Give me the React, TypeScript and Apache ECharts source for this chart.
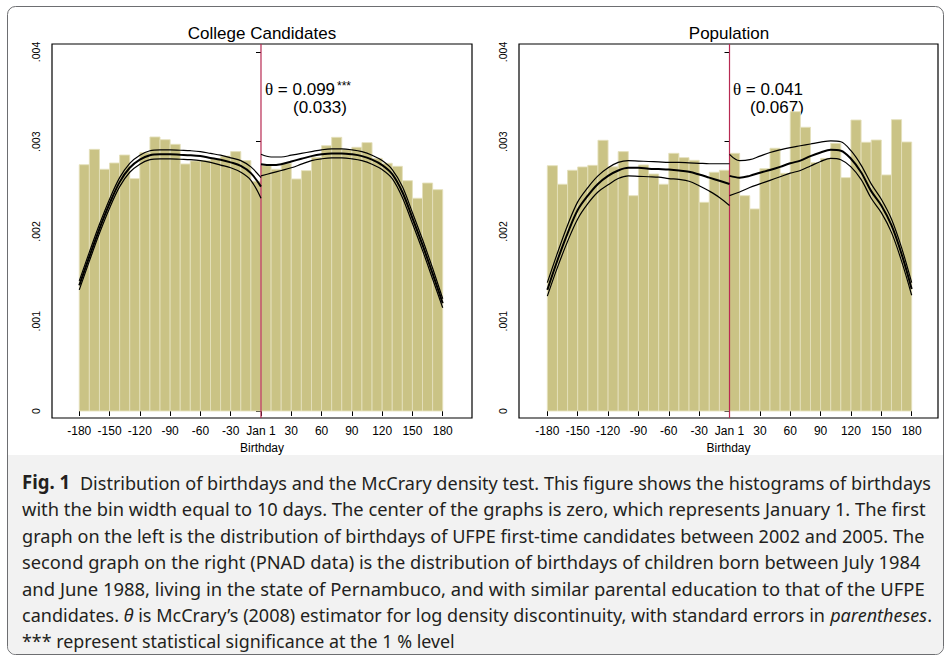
import React, { useEffect, useRef } from 'react';
import * as echarts from 'echarts';

// ---------- data ----------
const BIN_WIDTH = 10;
const BIN_STARTS = [-180, -170, -160, -150, -140, -130, -120, -110, -100, -90, -80, -70, -60, -50, -40, -30, -20, -10,
  0, 10, 20, 30, 40, 50, 60, 70, 80, 90, 100, 110, 120, 130, 140, 150, 160, 170];

const COLLEGE_BARS = [0.002744, 0.002915, 0.002693, 0.002763, 0.002852, 0.002589, 0.002878, 0.003053, 0.003023,
  0.002971, 0.002752, 0.002786, 0.00279, 0.00281, 0.00284, 0.00289, 0.00279, 0.00256,
  0.002733, 0.002693, 0.00276, 0.002585, 0.002678, 0.002826, 0.002956, 0.003049, 0.002915,
  0.002938, 0.00299, 0.002815, 0.00276, 0.002726, 0.002566, 0.00237, 0.00254, 0.002466];

const POPULATION_BARS = [0.002733, 0.002526, 0.002682, 0.002719, 0.002737, 0.003016, 0.00272, 0.00289, 0.002399,
  0.002741, 0.00264, 0.002526, 0.002871, 0.002823, 0.002793, 0.002325, 0.00266, 0.002682,
  0.002871, 0.002399, 0.002251, 0.0027, 0.002927, 0.002648, 0.003335, 0.003161, 0.002767,
  0.002815, 0.002982, 0.0026, 0.003242, 0.002994, 0.003019, 0.00263, 0.003246, 0.002997];

const LEFT_DAYS = [-180, -170, -160, -150, -140, -130, -120, -110, -100, -90, -80, -70, -60, -50, -40, -30, -20, -10, 0];
const RIGHT_DAYS = [0, 10, 20, 30, 40, 50, 60, 70, 80, 90, 100, 110, 120, 130, 140, 150, 160, 170, 180];

const COLLEGE_LEFT_FIT = [0.0014, 0.00172, 0.00203, 0.00231, 0.00255, 0.00271, 0.0028, 0.00285, 0.00286, 0.00286,
  0.002855, 0.00285, 0.00284, 0.00282, 0.0028, 0.00277, 0.00273, 0.00265, 0.0025];
const COLLEGE_LEFT_UPPER = [0.00145, 0.00177, 0.00208, 0.00236, 0.0026, 0.00276, 0.00285, 0.0029, 0.00291, 0.00291,
  0.002905, 0.0029, 0.00289, 0.00287, 0.00285, 0.00282, 0.00279, 0.00272, 0.0026];
const COLLEGE_LEFT_LOWER = [0.00135, 0.00167, 0.00198, 0.00226, 0.0025, 0.00266, 0.00275, 0.0028, 0.00281, 0.00281,
  0.002805, 0.0028, 0.00279, 0.00277, 0.00274, 0.00271, 0.00266, 0.00257, 0.00237];
const COLLEGE_RIGHT_FIT = [0.00275, 0.00274, 0.00275, 0.00278, 0.00281, 0.00284, 0.00286, 0.00287, 0.00287, 0.00286,
  0.00284, 0.0028, 0.00274, 0.00264, 0.00244, 0.00215, 0.00185, 0.00153, 0.0012];
const COLLEGE_RIGHT_UPPER = [0.00286, 0.00283, 0.00283, 0.00285, 0.00287, 0.00289, 0.00291, 0.00292, 0.00292, 0.00291,
  0.00289, 0.00285, 0.00279, 0.00269, 0.0025, 0.00221, 0.00191, 0.00159, 0.00125];
const COLLEGE_RIGHT_LOWER = [0.00262, 0.00265, 0.00268, 0.00271, 0.00275, 0.00279, 0.00281, 0.00282, 0.00282, 0.00281,
  0.00279, 0.00275, 0.00269, 0.00259, 0.00238, 0.00209, 0.00179, 0.00147, 0.00115];

const POP_LEFT_FIT = [0.00135, 0.00168, 0.00198, 0.00224, 0.0024, 0.00253, 0.00262, 0.00268, 0.00271, 0.00271,
  0.0027, 0.002695, 0.00269, 0.00268, 0.002665, 0.002635, 0.0026, 0.002565, 0.00253];
const POP_LEFT_UPPER = [0.00143, 0.00176, 0.00207, 0.00233, 0.00249, 0.00262, 0.00271, 0.00277, 0.00279, 0.002785,
  0.00278, 0.002775, 0.00277, 0.00277, 0.002765, 0.00276, 0.002755, 0.002755, 0.002755];
const POP_LEFT_LOWER = [0.00128, 0.0016, 0.00189, 0.00214, 0.00231, 0.00244, 0.00252, 0.00259, 0.00262, 0.002615,
  0.00261, 0.002605, 0.00259, 0.00258, 0.00256, 0.00251, 0.00245, 0.00238, 0.00229];
const POP_RIGHT_FIT = [0.00262, 0.0026, 0.00262, 0.002655, 0.002685, 0.00272, 0.00276, 0.00279, 0.00284, 0.00288,
  0.00291, 0.0029, 0.00281, 0.00266, 0.00245, 0.00229, 0.00207, 0.00175, 0.00136];
const POP_RIGHT_UPPER = [0.00286, 0.00279, 0.0028, 0.00284, 0.00288, 0.00291, 0.002935, 0.002955, 0.002975, 0.002995,
  0.00301, 0.003, 0.0029, 0.00274, 0.00253, 0.00236, 0.00214, 0.00182, 0.00143];
const POP_RIGHT_LOWER = [0.0024, 0.00244, 0.00249, 0.00253, 0.00257, 0.00261, 0.00265, 0.00268, 0.00273, 0.00278,
  0.002815, 0.0028, 0.00272, 0.00258, 0.00237, 0.00221, 0.00199, 0.00167, 0.00129];

const X_TICKS = [-180, -150, -120, -90, -60, -30, 0, 30, 60, 90, 120, 150, 180];
const Y_TICKS = [0, 0.001, 0.002, 0.003, 0.004];
const CUTOFF_DAY = 0;

const PANEL_TITLES = ['College Candidates', 'Population'];
const THETA_VALUES = ['0.099', '0.041'];
const THETA_STARS = ['***', ''];
const THETA_SE = ['(0.033)', '(0.067)'];

const CAPTION_LINES: { t: string; s: string }[][] = [
  [{ t: 'Fig. 1', s: 'b' }, { t: 'Distribution of birthdays and the McCrary density test. This figure shows the histograms of birthdays', s: 'n' }],
  [{ t: 'with the bin width equal to 10 days. The center of the graphs is zero, which represents January 1. The first', s: 'n' }],
  [{ t: 'graph on the left is the distribution of birthdays of UFPE first-time candidates between 2002 and 2005. The', s: 'n' }],
  [{ t: 'second graph on the right (PNAD data) is the distribution of birthdays of children born between July 1984', s: 'n' }],
  [{ t: 'and June 1988, living in the state of Pernambuco, and with similar parental education to that of the UFPE', s: 'n' }],
  [{ t: 'candidates. ', s: 'n' }, { t: 'θ', s: 'i' }, { t: ' is McCrary’s (2008) estimator for log density discontinuity, with standard errors in ', s: 'n' }, { t: 'parentheses', s: 'i' }, { t: '.', s: 'n' }],
  [{ t: '*** represent statistical significance at the 1 % level', s: 'n' }],
];

// ---------- layout / style ----------
const FONT = '"Liberation Sans", Arial, Helvetica, sans-serif';
const CAP_FONT = '"Noto Sans", "Open Sans", sans-serif';
const PANELS = [
  { left: 52, width: 420, xMin: -207, xMax: 209, center: 262, thetaX: 265, seX: 293 },
  { left: 519, width: 419, xMin: -208, xMax: 206, center: 729, thetaX: 733, seX: 750 },
];
const PLOT_TOP = 44;
const PLOT_HEIGHT = 374;
const Y_MIN = -0.000078;
const Y_MAX = 0.004089;
const BAR_FILL = '#cac385';
const BAR_EDGE = '#e4e0bb';
const CUT_COLOR = '#b82a52';
const CAP_RIGHT = [932, 926, 925, 921, 925, 932, 455];
const CAP_SIZE = 18.5;
const CAP_FONTS: Record<string, string> = {
  n: `${CAP_SIZE}px ${CAP_FONT}`,
  b: `bold ${CAP_SIZE + 0.5}px ${CAP_FONT}`,
  i: `italic ${CAP_SIZE}px ${CAP_FONT}`,
};
const B_PAD = 10;

function measure(text: string, font: string): number {
  const c = document.createElement('canvas').getContext('2d')!;
  c.font = font;
  return c.measureText(text).width;
}

function buildOption() {
  const grids: any[] = [];
  const xAxes: any[] = [];
  const yAxes: any[] = [];
  const series: any[] = [];
  const graphics: any[] = [];

  graphics.push({
    type: 'rect', z: 0, silent: true,
    shape: { x: 7.5, y: 6.5, width: 936, height: 648, r: 8 },
    style: { fill: 'none', stroke: '#6d6e71', lineWidth: 1 },
  });
  graphics.push({
    type: 'rect', z: 0, silent: true,
    shape: { x: 8, y: 455, width: 935, height: 199, r: [0, 0, 8, 8] },
    style: { fill: '#f2f2f2' },
  });

  const barSets = [COLLEGE_BARS, POPULATION_BARS];
  const curveSets = [
    [[LEFT_DAYS, COLLEGE_LEFT_UPPER, 1.2], [LEFT_DAYS, COLLEGE_LEFT_FIT, 2], [LEFT_DAYS, COLLEGE_LEFT_LOWER, 1.2],
     [RIGHT_DAYS, COLLEGE_RIGHT_UPPER, 1.2], [RIGHT_DAYS, COLLEGE_RIGHT_FIT, 2], [RIGHT_DAYS, COLLEGE_RIGHT_LOWER, 1.2]],
    [[LEFT_DAYS, POP_LEFT_UPPER, 1.2], [LEFT_DAYS, POP_LEFT_FIT, 2], [LEFT_DAYS, POP_LEFT_LOWER, 1.2],
     [RIGHT_DAYS, POP_RIGHT_UPPER, 1.2], [RIGHT_DAYS, POP_RIGHT_FIT, 2], [RIGHT_DAYS, POP_RIGHT_LOWER, 1.2]],
  ];

  PANELS.forEach((p, i) => {
    grids.push({
      left: p.left, top: PLOT_TOP, width: p.width, height: PLOT_HEIGHT,
      show: true, borderColor: '#000', borderWidth: 1.2, backgroundColor: 'transparent',
    });
    xAxes.push({
      gridIndex: i, type: 'value', min: p.xMin, max: p.xMax, position: 'bottom',
      axisLine: { show: false }, splitLine: { show: false },
      axisTick: { show: true, length: 5, customValues: X_TICKS, lineStyle: { color: '#000', width: 1 } },
      axisLabel: {
        customValues: X_TICKS, color: '#000', fontSize: 12, fontFamily: FONT, margin: 7,
        formatter: (v: number) => (v === 0 ? 'Jan 1' : String(v)),
      },
      name: 'Birthday', nameLocation: 'middle', nameGap: 22,
      nameTextStyle: { color: '#000', fontSize: 12, fontFamily: FONT },
    });
    yAxes.push({
      gridIndex: i, type: 'value', min: Y_MIN, max: Y_MAX,
      axisLine: { show: false }, splitLine: { show: false },
      axisTick: { show: true, length: 5, customValues: Y_TICKS, lineStyle: { color: '#000', width: 1 } },
      axisLabel: {
        customValues: Y_TICKS, rotate: 90, color: '#000', fontSize: 10.5, fontFamily: FONT, margin: 11,
        formatter: (v: number) => (Math.abs(v) < 1e-9 ? '0' : '.' + String(Math.round(v * 1000)).padStart(3, '0')),
      },
    });

    // cutoff line (behind bars)
    series.push({
      type: 'line', xAxisIndex: i, yAxisIndex: i, symbol: 'none', silent: true,
      data: [[CUTOFF_DAY, Y_MIN], [CUTOFF_DAY, Y_MAX]],
      lineStyle: { color: CUT_COLOR, width: 1.2 },
    });
    // histogram
    series.push({
      type: 'custom', xAxisIndex: i, yAxisIndex: i, silent: true,
      data: BIN_STARTS.map((s, k) => [s, s + BIN_WIDTH, barSets[i][k]]),
      renderItem: (_params: any, api: any) => {
        const a = api.coord([api.value(0), api.value(2)]);
        const b = api.coord([api.value(1), 0]);
        return {
          type: 'rect',
          shape: { x: a[0], y: a[1], width: b[0] - a[0], height: b[1] - a[1] },
          style: { fill: BAR_FILL, stroke: BAR_EDGE, lineWidth: 0.9 },
        };
      },
    });
    // density fits
    curveSets[i].forEach((c: any) => {
      const days = c[0] as number[];
      const vals = c[1] as number[];
      series.push({
        type: 'line', xAxisIndex: i, yAxisIndex: i, symbol: 'none', silent: true,
        smooth: 0.35,
        data: days.map((d, k) => [d, vals[k]]),
        lineStyle: { color: '#000', width: c[2] },
      });
    });

    graphics.push({
      type: 'text', x: p.center, y: 33, silent: true,
      style: { text: PANEL_TITLES[i], fontSize: 17, fontFamily: FONT, fill: '#000', align: 'center', verticalAlign: 'middle' },
    });
    graphics.push({
      type: 'text', x: p.thetaX, y: 89, silent: true,
      style: {
        text: '{th|θ}{n| = ' + THETA_VALUES[i] + '}',
        verticalAlign: 'middle', align: 'left', fill: '#000',
        rich: {
          th: { fontFamily: '"Liberation Serif", serif', fontSize: 17, fill: '#000', lineHeight: 15 },
          n: { fontFamily: FONT, fontSize: 17, fill: '#000', lineHeight: 15 },
        },
      },
    });
    if (THETA_STARS[i]) {
      graphics.push({
        type: 'text', x: p.thetaX + 72, y: 86, silent: true,
        style: { text: THETA_STARS[i], fontSize: 12, fontFamily: FONT, fill: '#000', align: 'left', verticalAlign: 'middle', lineHeight: 10 },
      });
    }
    graphics.push({
      type: 'text', x: p.seX, y: 107, silent: true,
      style: { text: THETA_SE[i], fontSize: 17, fontFamily: FONT, fill: '#000', align: 'left', verticalAlign: 'middle', lineHeight: 15 },
    });
  });

  // caption
  CAPTION_LINES.forEach((line, li) => {
    let w = 0;
    line.forEach((tok) => {
      w += measure(tok.t, CAP_FONTS[tok.s]);
      if (tok.s === 'b') w += B_PAD;
    });
    const left = 22;
    const scale = (CAP_RIGHT[li] - left) / w;
    const text = line.map((tok) => `{${tok.s}|${tok.t}}`).join('');
    graphics.push({
      type: 'text', x: left, y: 482 + li * 26.5, scaleX: scale, silent: true,
      style: {
        text, align: 'left', verticalAlign: 'middle', fill: '#231f20',
        rich: {
          n: { fontSize: CAP_SIZE, fontFamily: CAP_FONT, fill: '#231f20' },
          b: { fontSize: CAP_SIZE + 0.5, fontWeight: 'bold', fontFamily: CAP_FONT, fill: '#231f20', padding: [0, B_PAD, 0, 0] },
          i: { fontSize: CAP_SIZE, fontStyle: 'italic', fontFamily: CAP_FONT, fill: '#231f20' },
        },
      },
    });
  });

  return {
    animation: false,
    backgroundColor: '#fff',
    grid: grids,
    xAxis: xAxes,
    yAxis: yAxes,
    series,
    graphic: { elements: graphics },
  };
}

export default function App() {
  const ref = useRef<HTMLDivElement>(null);
  useEffect(() => {
    const chart = echarts.init(ref.current!, undefined, { renderer: 'svg' });
    chart.setOption(buildOption() as any);
    return () => chart.dispose();
  }, []);
  return <div ref={ref} style={{ position: 'absolute', left: 0, top: 0, width: 952, height: 660 }} />;
}
